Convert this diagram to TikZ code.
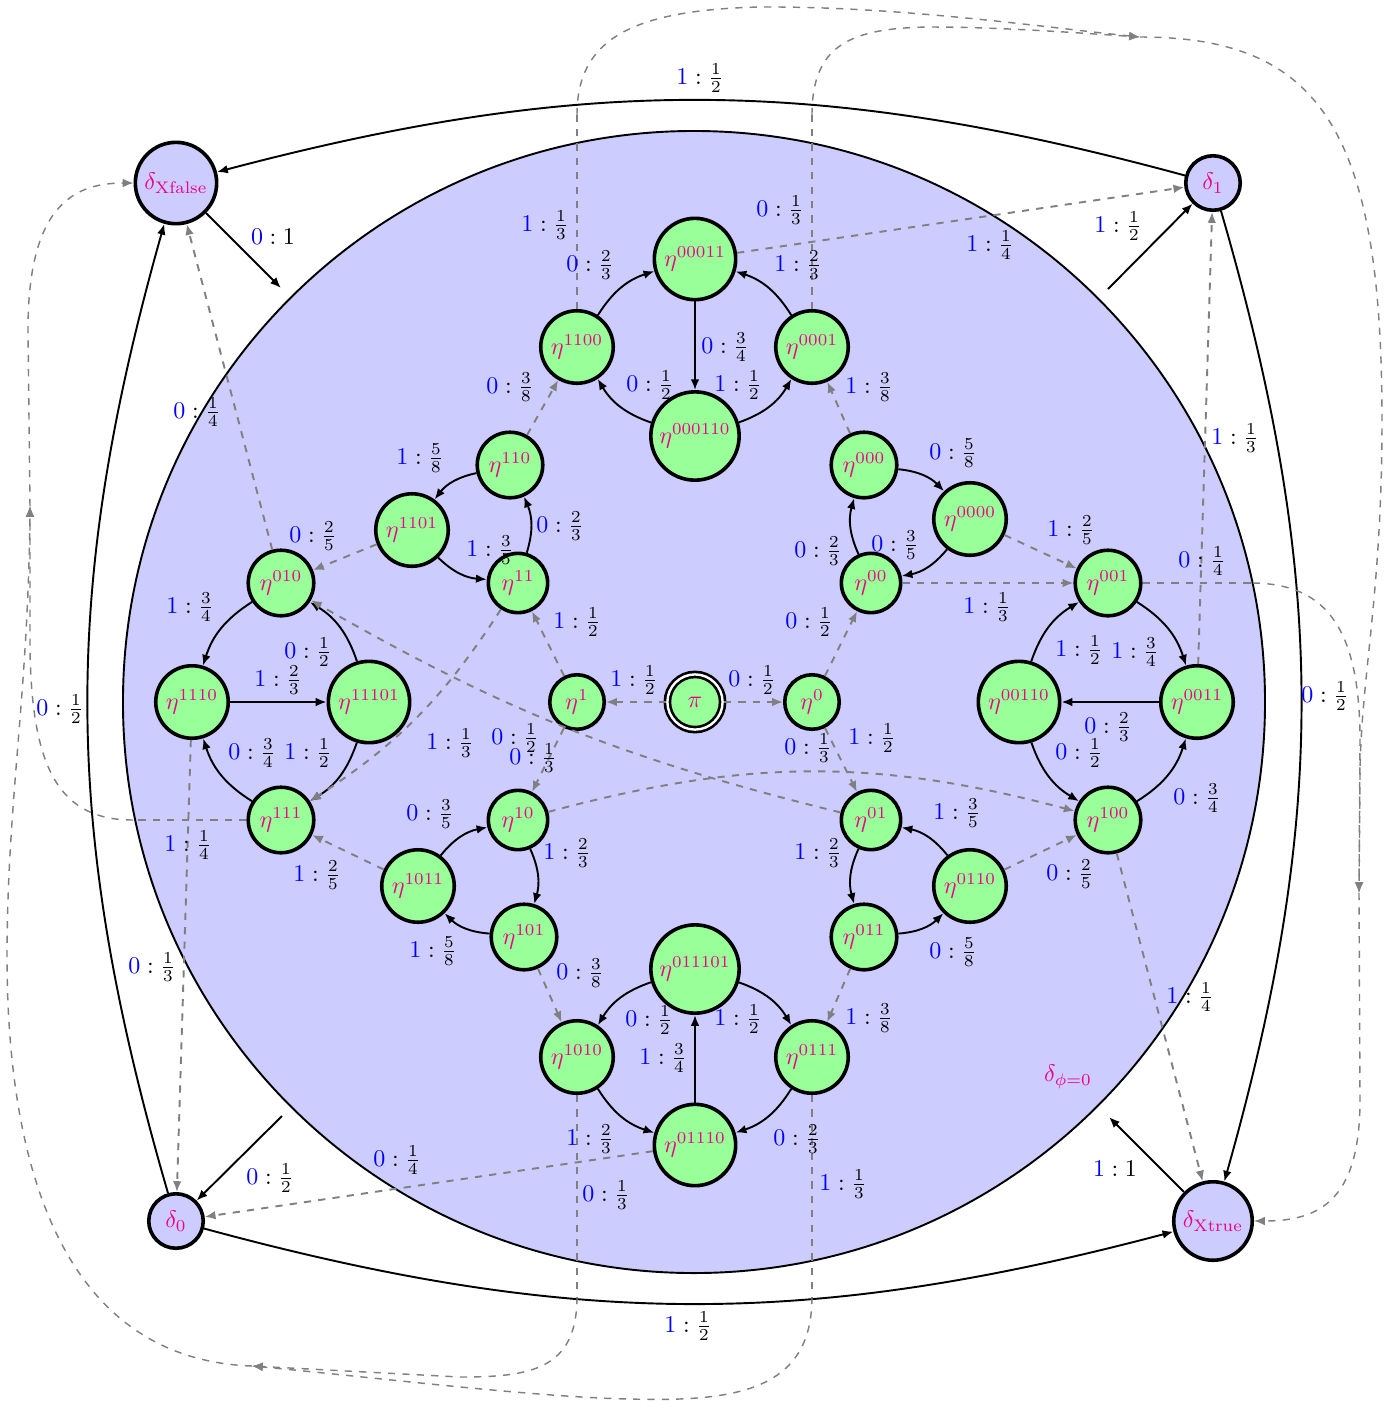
\documentclass[tikz,border=0pt]{standalone}
\usetikzlibrary{arrows.meta}
\definecolor{nodepink}{RGB}{236,0,140}
\definecolor{lav}{RGB}{204,204,255}
\definecolor{lgreen}{RGB}{153,255,153}
\newcounter{elc}
\newcommand\edgelab[5]{\stepcounter{elc}\node[lbl] (el\arabic{elc}) at (#1,-#2) {$\textcolor{blue}{#3}:\frac{#4}{#5}$};}
\begin{document}
\begin{tikzpicture}[x=0.4167pt,y=0.4167pt,
  st/.style={circle,draw,line width=1.5pt,fill=lgreen,inner sep=0pt,text=nodepink},
  dl/.style={circle,draw,line width=1.5pt,fill=lav,inner sep=0pt,text=nodepink},
  sA/.style={minimum size=22.7pt},
  sB/.style={minimum size=24.7pt},
  sC/.style={minimum size=27.3pt},
  sD/.style={minimum size=30.2pt},
  sE/.style={minimum size=33.9pt},
  sF/.style={minimum size=36.8pt},
  sol/.style={thick,-{Latex[length=4.5pt,width=3.6pt]}},
  dsh/.style={thick,dashed,gray,-{Latex[length=4.5pt,width=3.6pt]}},
  dshn/.style={thick,dashed,gray},
  thn/.style={semithick,dashed,gray,-{Latex[length=4.5pt,width=3.6pt]}},
  lbl/.style={inner sep=1pt}
]
\useasboundingbox (0,0) rectangle (1391,-1410);
% big region
\node[circle,draw,thick,fill=lav,minimum size=475.9pt,inner sep=0pt] (big) at (694,-702) {};
\node[text=nodepink] (phiz) at (1068,-1077) {$\delta_{\phi=0}$};
% states
\node[st,minimum size=23pt,double,double distance=1pt,line width=1.1pt] (pi) at (695,-702) {$\pi$};
\node[st,sA] (n1) at (577,-702) {$\eta^{1}$};
\node[st,sA] (n0) at (812,-702) {$\eta^{0}$};
\node[st,sB] (n11) at (518,-583) {$\eta^{11}$};
\node[st,sB] (n00) at (871,-583) {$\eta^{00}$};
\node[st,sB] (n10) at (518,-820) {$\eta^{10}$};
\node[st,sB] (n01) at (871,-820) {$\eta^{01}$};
\node[st,sC] (n110) at (510,-465) {$\eta^{110}$};
\node[st,sC] (n000) at (864,-465) {$\eta^{000}$};
\node[st,sC] (n101) at (524,-937) {$\eta^{101}$};
\node[st,sC] (n011) at (864,-937) {$\eta^{011}$};
\node[st,sC] (n010) at (281,-583) {$\eta^{010}$};
\node[st,sC] (n111) at (281,-820) {$\eta^{111}$};
\node[st,sC] (n001) at (1108,-583) {$\eta^{001}$};
\node[st,sC] (n100) at (1108,-820) {$\eta^{100}$};
\node[st,sD] (n1101) at (412,-530) {$\eta^{1101}$};
\node[st,sD] (n0000) at (970,-519) {$\eta^{0000}$};
\node[st,sD] (n1011) at (418,-886) {$\eta^{1011}$};
\node[st,sD] (n0110) at (970,-886) {$\eta^{0110}$};
\node[st,sD] (n1100) at (577,-347) {$\eta^{1100}$};
\node[st,sD] (n0001) at (812,-347) {$\eta^{0001}$};
\node[st,sD] (n1010) at (577,-1057) {$\eta^{1010}$};
\node[st,sD] (n0111) at (812,-1057) {$\eta^{0111}$};
\node[st,sD] (n1110) at (192,-702) {$\eta^{1110}$};
\node[st,sD] (n0011) at (1197,-702) {$\eta^{0011}$};
\node[st,sE] (n11101) at (369,-702) {$\eta^{11101}$};
\node[st,sE] (n00110) at (1019,-702) {$\eta^{00110}$};
\node[st,sE] (n00011) at (695,-259) {$\eta^{00011}$};
\node[st,sE] (n01110) at (695,-1145) {$\eta^{01110}$};
\node[st,sF] (n000110) at (695,-436) {$\eta^{000110}$};
\node[st,sF] (n011101) at (695,-969) {$\eta^{011101}$};
\node[dl,sE] (dXf) at (176,-183) {$\delta_{\mathrm{Xfalse}}$};
\node[dl,sA] (d1) at (1213,-183) {$\delta_{1}$};
\node[dl,sA] (d0) at (176,-1221) {$\delta_{0}$};
\node[dl,minimum size=32.7pt] (dXt) at (1213,-1221) {$\delta_{\mathrm{Xtrue}}$};
% coordinates
\coordinate (cA) at (281,-288);
\coordinate (cB) at (1108,-289);
\coordinate (cC) at (1109,-1117);
\coordinate (cD) at (282,-1116);
\coordinate (Mtop) at (1140,-37);
\coordinate (Mright) at (1359,-893);
\coordinate (Mbot) at (252,-1366);
\coordinate (Mleft) at (30,-506);
\coordinate (u1) at (577,-115);
\coordinate (u2) at (812,-115);
\coordinate (b1) at (577,-1297);
\coordinate (b2) at (812,-1297);
\coordinate (l1) at (133,-820);
\coordinate (r1) at (1253,-583);
% outer solid edges
\draw[sol] (d1) to[bend right=15] (dXf);
\draw[sol] (d0) to[bend left=16] (dXf);
\draw[sol] (d1) to[bend left=16] (dXt);
\draw[sol] (d0) to[bend right=15] (dXt);
\draw[sol] (dXf) -- (cA);
\draw[sol] (cB) -- (d1);
\draw[sol] (dXt) -- (cC);
\draw[sol] (cD) -- (d0);
% inner solid edges
\draw[sol] (n1100) to[bend left=20] (n00011);
\draw[sol] (n0001) to[bend right=20] (n00011);
\draw[sol] (n00011) -- (n000110);
\draw[sol] (n000110) to[bend left=20] (n1100);
\draw[sol] (n000110) to[bend right=20] (n0001);
\draw[sol] (n011101) to[bend right=20] (n1010);
\draw[sol] (n011101) to[bend left=20] (n0111);
\draw[sol] (n01110) -- (n011101);
\draw[sol] (n1010) to[bend right=20] (n01110);
\draw[sol] (n0111) to[bend left=20] (n01110);
\draw[sol] (n010) to[bend right=20] (n1110);
\draw[sol] (n1110) -- (n11101);
\draw[sol] (n11101) to[bend right=20] (n010);
\draw[sol] (n11101) to[bend left=20] (n111);
\draw[sol] (n111) to[bend left=20] (n1110);
\draw[sol] (n00110) to[bend left=20] (n001);
\draw[sol] (n001) to[bend left=20] (n0011);
\draw[sol] (n0011) -- (n00110);
\draw[sol] (n00110) to[bend right=20] (n100);
\draw[sol] (n100) to[bend right=20] (n0011);
\draw[sol] (n110) to[bend right=20] (n1101);
\draw[sol] (n1101) to[bend right=20] (n11);
\draw[sol] (n11) to[bend right=20] (n110);
\draw[sol] (n000) to[bend left=20] (n0000);
\draw[sol] (n0000) to[bend left=20] (n00);
\draw[sol] (n00) to[bend left=20] (n000);
\draw[sol] (n1011) to[bend left=20] (n10);
\draw[sol] (n10) to[bend left=20] (n101);
\draw[sol] (n101) to[bend left=20] (n1011);
\draw[sol] (n01) to[bend right=20] (n011);
\draw[sol] (n011) to[bend right=20] (n0110);
\draw[sol] (n0110) to[bend right=20] (n01);
% dashed edges
\draw[dsh] (pi) -- (n1);
\draw[dsh] (pi) -- (n0);
\draw[dsh] (n1) -- (n11);
\draw[dsh] (n1) -- (n10);
\draw[dsh] (n0) -- (n00);
\draw[dsh] (n0) -- (n01);
\draw[dsh] (n11) to[bend left=12] (n111);
\draw[dsh] (n01) to[bend left=8] (n010);
\draw[dsh] (n10) to[bend left=15] (n100);
\draw[dsh] (n00) -- (n001);
\draw[dsh] (n0000) -- (n001);
\draw[dsh] (n0110) -- (n100);
\draw[dsh] (n1101) -- (n010);
\draw[dsh] (n1011) -- (n111);
\draw[dsh] (n110) -- (n1100);
\draw[dsh] (n000) -- (n0001);
\draw[dsh] (n101) -- (n1010);
\draw[dsh] (n011) -- (n0111);
\draw[dsh] (n00011) -- (d1);
\draw[dsh] (n01110) -- (d0);
\draw[dsh] (n010) -- (dXf);
\draw[dsh] (n1110) -- (d0);
\draw[dsh] (n0011) -- (d1);
\draw[dsh] (n100) -- (dXt);
% long dashed paths
\draw[dshn] (n1100) -- (u1);
\draw[thn] (u1) .. controls (577,-40) and (630,-10) .. (760,-7) .. controls (900,-6) and (1050,-28) .. (Mtop);
\draw[dshn] (n0001) -- (u2);
\draw[thn] (u2) .. controls (812,-45) and (850,-28) .. (930,-27) .. controls (1000,-27) and (1080,-33) .. (Mtop);
\draw[thn] (Mtop) .. controls (1320,-37) and (1382,-130) .. (1382,-420) .. controls (1382,-600) and (1360,-680) .. (1360,-780) -- (Mright);
\draw[dshn] (n001) -- (r1);
\draw[thn] (r1) .. controls (1320,-584) and (1360,-620) .. (1360,-740) -- (Mright);
\draw[thn] (Mright) -- (1360,-1100) .. controls (1360,-1200) and (1320,-1221) .. (dXt.east);
\draw[dshn] (n1010) -- (b1);
\draw[thn] (b1) .. controls (577,-1370) and (530,-1377) .. (460,-1377) -- (Mbot);
\draw[dshn] (n0111) -- (b2);
\draw[thn] (b2) .. controls (812,-1400) and (720,-1403) .. (600,-1398) .. controls (500,-1393) and (380,-1378) .. (Mbot);
\draw[thn] (Mbot) .. controls (80,-1360) and (8,-1200) .. (7,-960) .. controls (7,-800) and (28,-700) .. (Mleft);
\draw[dshn] (n111) -- (l1);
\draw[thn] (l1) .. controls (60,-820) and (32,-770) .. (30,-650) -- (Mleft);
\draw[thn] (Mleft) -- (28,-330) .. controls (28,-210) and (70,-183) .. (dXf.west);
% labels
\edgelab{700}{78}{1}{1}{2}
\node[lbl] (elA) at (273,-237) {$\textcolor{blue}{0}:1$};
\edgelab{1118}{226}{1}{1}{2}
\edgelab{545}{225}{1}{1}{3}
\edgelab{590}{265}{0}{2}{3}
\edgelab{780}{210}{0}{1}{3}
\edgelab{798}{265}{1}{2}{3}
\edgelab{725}{347}{0}{3}{4}
\edgelab{510}{387}{0}{3}{8}
\edgelab{650}{385}{0}{1}{2}
\edgelab{738}{385}{1}{1}{2}
\edgelab{869}{387}{1}{3}{8}
\edgelab{990}{245}{1}{1}{4}
\edgelab{1235}{438}{1}{1}{3}
\edgelab{953}{453}{0}{5}{8}
\edgelab{197}{412}{0}{1}{4}
\edgelab{420}{458}{1}{5}{8}
\edgelab{313}{536}{0}{2}{5}
\edgelab{190}{607}{1}{3}{4}
\edgelab{308}{652}{0}{1}{2}
\edgelab{278}{680}{1}{2}{3}
\edgelab{60}{709}{0}{1}{2}
\edgelab{252}{753}{0}{3}{4}
\edgelab{308}{753}{1}{1}{2}
\edgelab{450}{743}{1}{1}{3}
\edgelab{188}{845}{1}{1}{4}
\edgelab{317}{875}{1}{2}{5}
\edgelab{430}{814}{0}{3}{5}
\edgelab{560}{526}{0}{2}{3}
\edgelab{490}{550}{1}{3}{5}
\edgelab{818}{551}{0}{2}{3}
\edgelab{895}{545}{0}{3}{5}
\edgelab{577}{622}{1}{1}{2}
\edgelab{809}{622}{0}{1}{2}
\edgelab{634}{680}{1}{1}{2}
\edgelab{752}{680}{0}{1}{2}
\edgelab{515}{738}{0}{1}{2}
\edgelab{533}{758}{0}{1}{3}
\edgelab{808}{748}{0}{1}{3}
\edgelab{872}{738}{1}{1}{2}
\edgelab{567}{853}{1}{2}{3}
\edgelab{818}{853}{1}{2}{3}
\edgelab{1071}{530}{1}{2}{5}
\edgelab{1202}{561}{0}{1}{4}
\edgelab{987}{607}{1}{1}{3}
\edgelab{1079}{650}{1}{1}{2}
\edgelab{1135}{652}{1}{3}{4}
\edgelab{1325}{696}{0}{1}{2}
\edgelab{1108}{727}{0}{2}{3}
\edgelab{1079}{753}{0}{1}{2}
\edgelab{1197}{798}{0}{3}{4}
\edgelab{957}{813}{1}{3}{5}
\edgelab{1070}{874}{0}{2}{5}
\edgelab{152}{967}{0}{1}{3}
\edgelab{433}{951}{1}{5}{8}
\edgelab{270}{1178}{0}{1}{2}
\edgelab{397}{1160}{0}{1}{4}
\edgelab{580}{973}{0}{3}{8}
\edgelab{649}{1020}{0}{1}{2}
\edgelab{738}{1019}{1}{1}{2}
\edgelab{869}{1018}{1}{3}{8}
\edgelab{663}{1058}{1}{3}{4}
\edgelab{590}{1139}{1}{2}{3}
\edgelab{797}{1139}{0}{2}{3}
\edgelab{606}{1195}{0}{1}{3}
\edgelab{843}{1184}{1}{1}{3}
\edgelab{688}{1326}{1}{1}{2}
\edgelab{953}{952}{0}{5}{8}
\edgelab{1190}{997}{1}{1}{4}
\node[lbl] (elB) at (1115,-1169) {$\textcolor{blue}{1}:1$};
\end{tikzpicture}
\end{document}
